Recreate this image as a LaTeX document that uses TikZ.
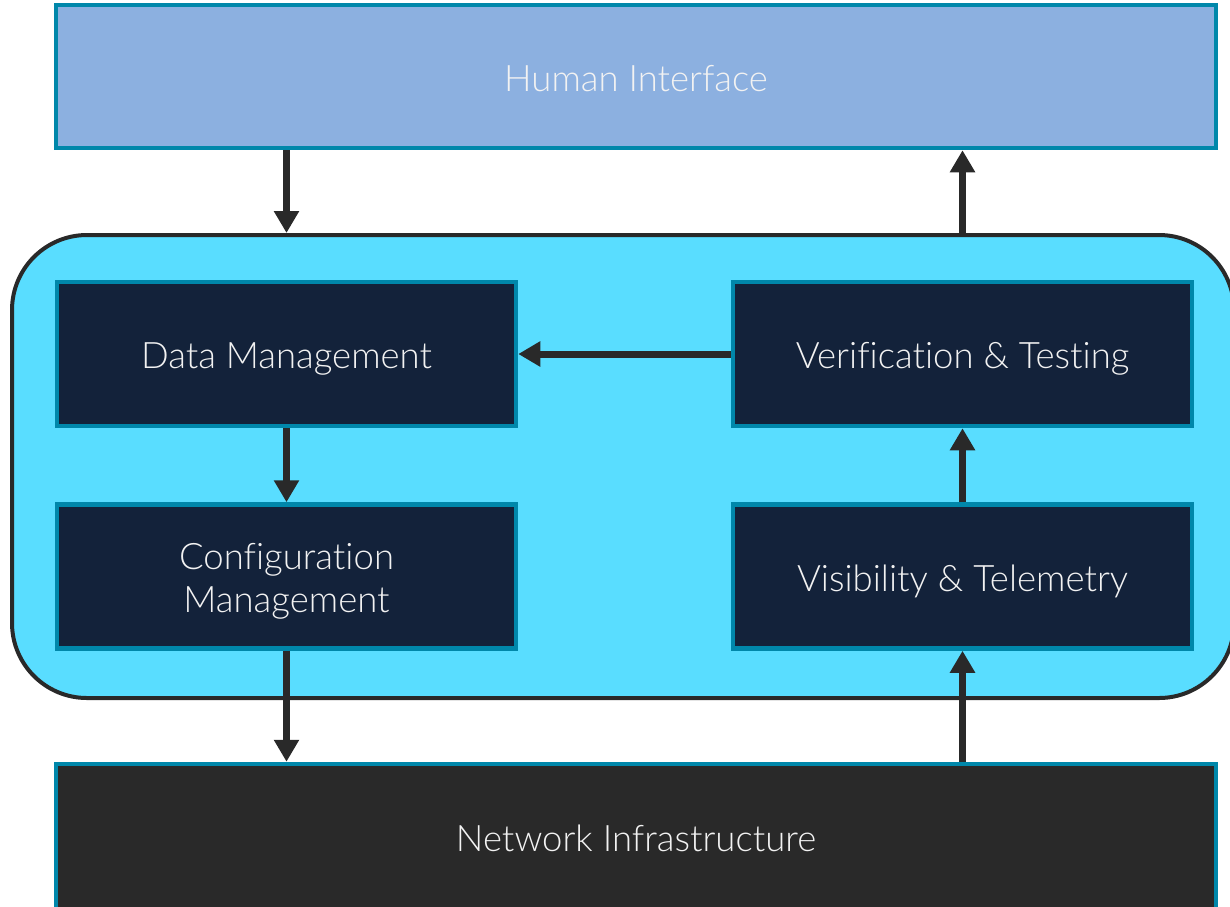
\documentclass[tikz,border=0pt]{standalone}
\usepackage{fontspec}
\setmainfont{Lato}[UprightFont={* Light},Ligatures={NoCommon}]
\usetikzlibrary{arrows.meta}
\definecolor{teal}{HTML}{0087AA}
\definecolor{hifill}{HTML}{8CB0E0}
\definecolor{cyanfill}{HTML}{59DDFF}
\definecolor{navy}{HTML}{13223A}
\definecolor{coal}{HTML}{292929}
\definecolor{txt}{HTML}{F2F2F2}
\begin{document}
\begin{tikzpicture}[x=1pt,y=-1pt,
  box/.style={draw=teal,line width=4.5pt,rectangle,inner sep=0pt},
  lbl/.style={text=txt,align=center,font=\fontsize{36.5}{43}\selectfont},
  inbox/.style={box,fill=navy,minimum width=459pt,minimum height=144pt},
  flow/.style={draw=coal,line width=7pt,-{Triangle[width=24pt,length=22pt]}}]
\useasboundingbox (0,0) rectangle (1230,906);
\node[draw=coal,line width=4pt,fill=cyanfill,rounded corners=75pt,minimum width=1222pt,minimum height=463pt,inner sep=0pt] (cont) at (623,466.5) {};
\node[box,fill=hifill,minimum width=1160pt,minimum height=143pt,label={[lbl,yshift=-2pt]center:Human Interface}] (hi) at (636,76.5) {};
\node[box,fill=coal,minimum width=1160pt,minimum height=148pt,label={[lbl]center:Network Infrastructure}] (ni) at (636,838) {};
\node[inbox,label={[lbl,yshift=-5pt]center:Data Management}] (dm) at (286.5,354) {};
\node[inbox,label={[lbl,yshift=-5pt]center:Configuration\\Management}] (cm) at (286.5,576.5) {};
\node[inbox,label={[lbl,yshift=-5pt]center:Verification \& Testing}] (vt) at (962.5,354) {};
\node[inbox,label={[lbl,yshift=-5pt]center:Visibility \& Telemetry}] (vis) at (962.5,576.5) {};
\draw[flow] (hi.south -| dm.north) -- (cont.north -| dm.north);
\draw[flow] (cont.north -| vt.north) -- (hi.south -| vt.north);
\draw[flow] (dm) -- (cm);
\draw[flow] (cm.south) -- (ni.north -| cm.south);
\draw[flow] (ni.north -| vis.south) -- (vis.south);
\draw[flow] (vis) -- (vt);
\draw[flow] (vt) -- (dm);
\end{tikzpicture}
\end{document}
